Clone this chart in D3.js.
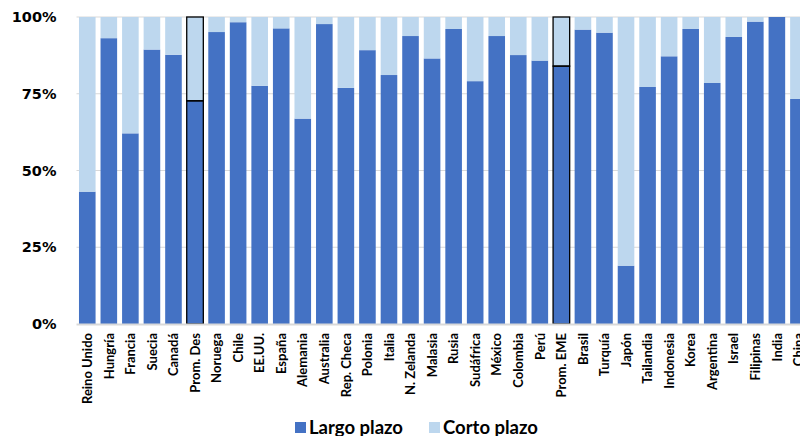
<!DOCTYPE html>
<html>
<head>
<meta charset="utf-8">
<script src="https://cdn.jsdelivr.net/npm/d3@7/dist/d3.min.js"></script>
<style>
  html, body { margin: 0; padding: 0; background: #fff; }
  svg { display: block; }
</style>
</head>
<body>
<svg id="chart" width="800" height="436"></svg>
<script>
// Share of debt by maturity, per country (percent of total)
const categories = ["Reino Unido","Hungría","Francia","Suecia","Canadá","Prom. Des","Noruega","Chile","EE.UU.","España",
  "Alemania","Australia","Rep. Checa","Polonia","Italia","N. Zelanda","Malasia","Rusia","Sudáfrica","México",
  "Colombia","Perú","Prom. EME","Brasil","Turquía","Japón","Tailandia","Indonesia","Korea","Argentina",
  "Israel","Filipinas","India","China"];
const largoPlazo = [43.1,93.1,62.1,89.4,87.7,72.7,95.1,98.3,77.6,96.3,
  66.9,97.7,76.9,89.2,81.1,93.8,86.5,96.1,79.1,93.8,
  87.6,85.8,84.0,95.9,94.9,19.0,77.2,87.2,96.1,78.5,
  93.5,98.5,100,73.3];
const cortoPlazo = largoPlazo.map(v => 100 - v);
const averages = ["Prom. Des","Prom. EME"];
const yTicks = [0,25,50,75,100];
const seriesNames = ["Largo plazo","Corto plazo"];
const seriesColors = ["#4472C4","#BDD7EE"];

const svg = d3.select("#chart");
const plotTop = 17, plotBottom = 324, plotLeft = 76.5;

const x = d3.scaleBand()
  .domain(categories)
  .range([plotLeft, plotLeft + categories.length * 21.55])
  .paddingInner(0.23)
  .paddingOuter(0.115);

const y = d3.scaleLinear().domain([0, 100]).range([plotBottom, plotTop]);

// horizontal gridlines
svg.append("g")
  .selectAll("line")
  .data(yTicks.filter(t => t > 0))
  .join("line")
  .attr("x1", plotLeft).attr("x2", 800)
  .attr("y1", d => y(d)).attr("y2", d => y(d))
  .attr("stroke", "#d9d9d9").attr("stroke-width", 1);

// y axis labels
const yAxis = d3.axisLeft(y).tickValues(yTicks).tickFormat(d => d + "%").tickSize(0).tickPadding(0);
const gy = svg.append("g").attr("transform", `translate(${plotLeft - 20},0)`).call(yAxis);
gy.select(".domain").remove();
gy.selectAll("text")
  .attr("font-family", "DejaVu Sans")
  .attr("font-weight", "bold")
  .attr("font-size", 14.5)
  .attr("fill", "#000");

// stacked bars
const rows = categories.map((c, i) => ({ cat: c, largo: largoPlazo[i], corto: cortoPlazo[i] }));
const stack = d3.stack().keys(["largo","corto"])(rows);

svg.append("g")
  .selectAll("g")
  .data(stack)
  .join("g")
  .attr("fill", (d, i) => seriesColors[i])
  .selectAll("rect")
  .data(d => d)
  .join("rect")
  .attr("x", d => x(d.data.cat))
  .attr("width", x.bandwidth())
  .attr("y", d => y(d[1]))
  .attr("height", d => y(d[0]) - y(d[1]));

// outline the two average bars, segment by segment
svg.append("g")
  .selectAll("g")
  .data(stack)
  .join("g")
  .selectAll("rect")
  .data(d => d.filter(p => averages.includes(p.data.cat)))
  .join("rect")
  .attr("x", d => x(d.data.cat))
  .attr("width", x.bandwidth())
  .attr("y", d => y(d[1]))
  .attr("height", d => y(d[0]) - y(d[1]))
  .attr("fill", "none")
  .attr("stroke", "#000")
  .attr("stroke-width", 1.3);

// x axis
const xAxis = d3.axisBottom(x).tickSize(0).tickPadding(0);
const gx = svg.append("g").attr("transform", `translate(0,${plotBottom})`).call(xAxis);
gx.select(".domain").remove();
gx.append("line")
  .attr("x1", plotLeft).attr("x2", 800)
  .attr("y1", 0.5).attr("y2", 0.5)
  .attr("stroke", "#d9d9d9").attr("stroke-width", 2);
gx.selectAll(".tick text")
  .attr("transform", "rotate(-90)")
  .attr("text-anchor", "end")
  .attr("x", -9)
  .attr("y", 0)
  .attr("dy", "0.36em")
  .attr("font-family", "Lato")
  .attr("font-weight", "bold")
  .attr("font-size", 13)
  .attr("fill", "#000");

// legend
const legend = svg.append("g");
const legendX = [295, 429];
seriesNames.forEach((name, i) => {
  legend.append("rect")
    .attr("x", legendX[i]).attr("y", 422)
    .attr("width", 11).attr("height", 11)
    .attr("fill", seriesColors[i]);
  legend.append("text")
    .attr("x", legendX[i] + 14).attr("y", 433.5)
    .attr("font-family", "Lato")
    .attr("font-weight", "bold")
    .attr("font-size", 18.5)
    .attr("fill", "#000")
    .text(name);
});
</script>
</body>
</html>
